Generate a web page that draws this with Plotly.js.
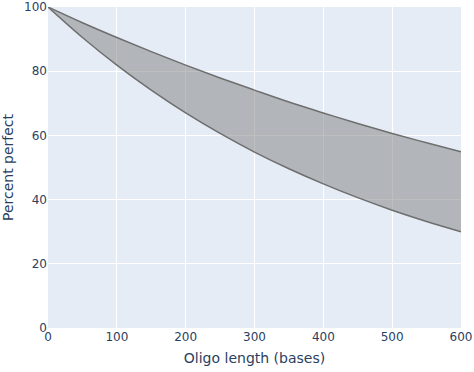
<!DOCTYPE html>
<html><head><meta charset="utf-8">
<script src="https://cdn.plot.ly/plotly-3.0.1.min.js"></script>
<style>html,body{margin:0;padding:0;background:#fff}</style>
</head><body><div id="chart" style="width:474px;height:372px"></div>
<script>
const lengths = [0, 50, 100, 150, 200, 250, 300, 350, 400, 450, 500, 550, 600];
const upperPct = [100, 95.1, 90.5, 86.1, 81.9, 77.9, 74.1, 70.4, 67.0, 63.7, 60.6, 57.7, 54.9];
const lowerPct = [100, 90.5, 81.9, 74.1, 67.0, 60.6, 54.8, 49.6, 44.9, 40.6, 36.7, 33.2, 30.0];
const yTicks = [0, 20, 40, 60, 80, 100];
const xTicks = [0, 100, 200, 300, 400, 500, 600];

const traces = [
  {x: lengths, y: lowerPct, mode: 'lines', line: {color: 'rgb(110,110,110)', width: 1.5, shape: 'spline'}, showlegend: false, hoverinfo: 'skip', cliponaxis: false},
  {x: lengths, y: upperPct, mode: 'lines', fill: 'tonexty', fillcolor: 'rgba(128,128,128,0.5)', line: {color: 'rgb(110,110,110)', width: 1.5, shape: 'spline'}, showlegend: false, hoverinfo: 'skip', cliponaxis: false}
];
const layout = {
  width: 474, height: 372,
  margin: {l: 48, r: 13, t: 7, b: 44},
  paper_bgcolor: '#fff', plot_bgcolor: '#E5ECF6',
  font: {family: '"DejaVu Sans", verdana, arial, sans-serif', color: '#2a3f5f', size: 12},
  xaxis: {range: [0, 600], tickmode: 'array', tickvals: xTicks, gridcolor: '#fff', zeroline: false, ticks: '', showline: false, automargin: false,
          title: {text: 'Oligo length (bases)', font: {size: 14}, standoff: 10}},
  yaxis: {range: [0, 100], tickmode: 'array', tickvals: yTicks, gridcolor: '#fff', zeroline: false, ticks: '', showline: false, automargin: false,
          title: {text: 'Percent perfect', font: {size: 14}, standoff: 10}}
};
Plotly.newPlot('chart', traces, layout, {displayModeBar: false, staticPlot: true});
</script></body></html>
